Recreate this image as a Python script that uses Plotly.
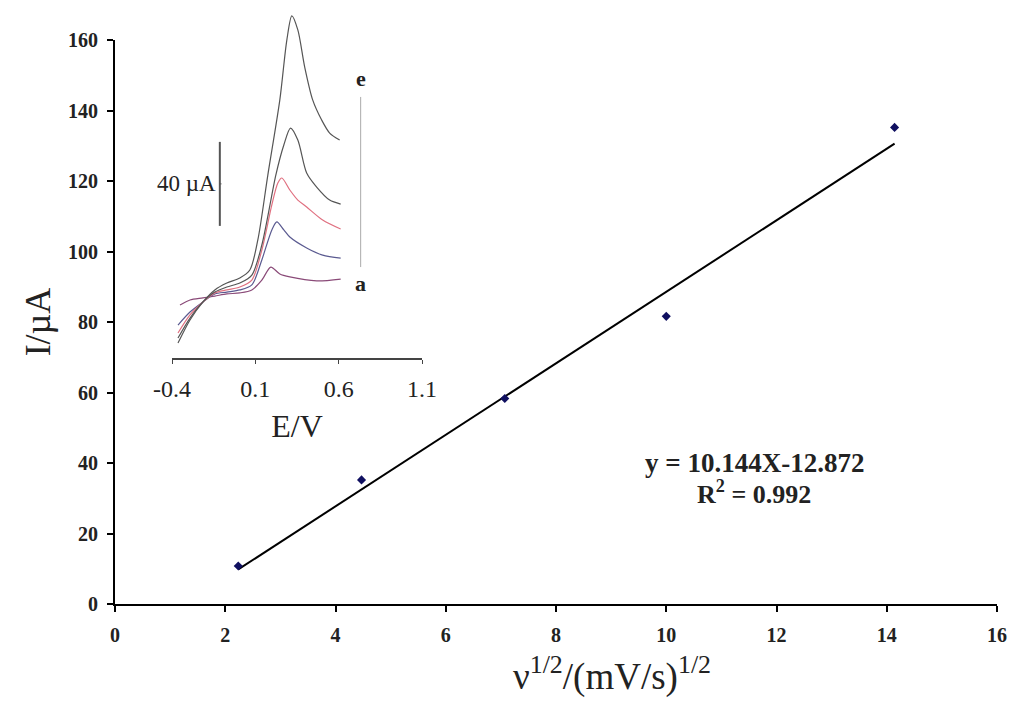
import plotly.graph_objects as go

# Main data: square root of scan rate vs peak current
sqrt_v = [2.236, 4.472, 7.071, 10.0, 14.142]
peak_I = [10.8, 35.2, 58.3, 81.6, 135.2]
slope, intercept = 10.144, -12.872
x_ticks = [0, 2, 4, 6, 8, 10, 12, 14, 16]
y_ticks = [0, 20, 40, 60, 80, 100, 120, 140, 160]

# Inset voltammograms (E in V, I in uA)
E_a = [-0.352, -0.292, -0.214, -0.143, -0.071, 0.007, 0.079, 0.139, 0.193, 0.247, 0.307, 0.468, 0.612]
I_a = [25.2, 27.6, 28.6, 29.5, 30.5, 31.0, 32.4, 37.1, 43.3, 40.0, 38.6, 36.7, 37.6]
E_b = [-0.364, -0.292, -0.214, -0.143, -0.071, 0.007, 0.079, 0.139, 0.199, 0.229, 0.271, 0.307, 0.408, 0.504, 0.612]
I_b = [15.7, 21.9, 26.7, 30.5, 31.4, 32.4, 34.8, 46.7, 61.0, 64.8, 61.0, 57.6, 52.4, 49.0, 47.6]
E_c = [-0.364, -0.292, -0.214, -0.143, -0.071, 0.007, 0.079, 0.139, 0.199, 0.235, 0.259, 0.307, 0.355, 0.408, 0.504, 0.612]
I_c = [11.9, 20.5, 26.7, 31.0, 32.4, 33.8, 37.1, 51.4, 72.9, 83.3, 85.7, 80.0, 75.2, 71.9, 65.7, 61.4]
E_d = [-0.364, -0.292, -0.214, -0.143, -0.071, 0.007, 0.079, 0.139, 0.223, 0.271, 0.311, 0.355, 0.408, 0.468, 0.546, 0.612]
I_d = [9.5, 19.0, 26.7, 31.4, 33.8, 35.7, 39.5, 53.8, 87.1, 101.4, 109.5, 103.8, 88.1, 81.4, 75.2, 73.3]
E_e = [-0.364, -0.292, -0.214, -0.143, -0.071, 0.007, 0.067, 0.115, 0.175, 0.247, 0.289, 0.319, 0.355, 0.396, 0.444, 0.498, 0.546, 0.606]
I_e = [7.1, 18.1, 26.7, 32.4, 35.7, 38.1, 41.9, 56.2, 87.1, 122.9, 151.4, 162.9, 156.2, 138.6, 122.9, 113.3, 107.1, 103.8]
inset_ticks = [-0.4, 0.1, 0.6, 1.1]

serif = "Liberation Serif"
fig = go.Figure()

# Inset curves
curves = [(E_a, I_a, "#8a4a78"), (E_b, I_b, "#5a5a90"), (E_c, I_c, "#e07080"),
          (E_d, I_d, "#555555"), (E_e, I_e, "#555555")]
for E, I, col in curves:
    fig.add_trace(go.Scatter(x=E, y=I, mode="lines", xaxis="x2", yaxis="y2",
                             line=dict(color=col, width=1.2, shape="spline", smoothing=0.8),
                             showlegend=False, hoverinfo="skip"))

# Trend line
x_fit = [sqrt_v[0], sqrt_v[-1]]
y_fit = [slope * x + intercept for x in x_fit]
fig.add_trace(go.Scatter(x=x_fit, y=y_fit, mode="lines",
                         line=dict(color="black", width=2), showlegend=False))
# Data points
fig.add_trace(go.Scatter(x=sqrt_v, y=peak_I, mode="markers",
                         marker=dict(symbol="diamond", size=7, color="#101060"),
                         showlegend=False))

fig.update_layout(
    width=1015, height=707,
    margin=dict(l=115, r=18, t=10, b=103, autoexpand=False),
    paper_bgcolor="white", plot_bgcolor="white",
    showlegend=False,
    xaxis=dict(range=[0, 16], tickvals=x_ticks, showgrid=False, zeroline=False,
               automargin=False,
               showline=True, linecolor="black", linewidth=2,
               ticks="outside", ticklen=6, tickwidth=2, tickcolor="black",
               ticklabelstandoff=6,
               tickfont=dict(family=serif, size=20, color="#222", weight="bold")),
    yaxis=dict(range=[0, 160], tickvals=y_ticks, domain=[0, 564 / 594], showgrid=False,
               automargin=False,
               zeroline=False, showline=True, linecolor="black", linewidth=2,
               ticks="outside", ticklen=6, tickwidth=2, tickcolor="black",
               ticklabelstandoff=5,
               tickfont=dict(family=serif, size=20, color="#222", weight="bold"),
               title=dict(text="I/µA", font=dict(family=serif, size=36, color="#222"),
                          standoff=6)),
    xaxis2=dict(domain=[(172 - 115) / 882, (422 - 115) / 882], anchor="y2",
                automargin=False,
                range=[-0.4, 1.1], tickvals=inset_ticks, ticktext=["-0.4", "0.1", "0.6", "1.1"],
                showgrid=False, zeroline=False, showline=True, linecolor="#444", linewidth=2,
                ticks="outside", ticklen=4, tickcolor="#444", ticklabelstandoff=4,
                tickfont=dict(family=serif, size=24, color="#222"),
                title=dict(text="E/V", font=dict(family=serif, size=32, color="#222"), standoff=14)),
    yaxis2=dict(domain=[(604 - 358) / 594, 1.0], anchor="x2", range=[0, 165.7],
                automargin=False,
                visible=False, showgrid=False, zeroline=False),
)

# X axis title (placed off-centre as in the original)
fig.add_annotation(xref="paper", yref="paper", x=(612 - 115) / 882, y=-(674 - 604) / 594,
                   xanchor="center", yanchor="middle",
                   text="ν<sup>1/2</sup>/(mV/s)<sup>1/2</sup>", showarrow=False,
                   font=dict(family=serif, size=37, color="#222"))

# Scale bar (40 uA) and a->e marker in inset coordinates
fig.add_shape(type="line", xref="x2", yref="y2", x0=-0.113, x1=-0.113, y0=62.9, y1=102.9,
              line=dict(color="#555", width=2))
fig.add_shape(type="line", xref="x2", yref="y2", x0=-0.113, x1=-0.103, y0=82.9, y1=82.9,
              line=dict(color="#555", width=1))
fig.add_annotation(xref="x2", yref="y2", x=-0.125, y=82.9, text="40 µA", showarrow=False,
                   xanchor="right", font=dict(family=serif, size=23, color="#222"))
fig.add_shape(type="line", xref="x2", yref="y2", x0=0.732, x1=0.732, y0=43.3, y1=124.3,
              line=dict(color="#aaa", width=1))
fig.add_annotation(xref="x2", yref="y2", x=0.732, y=132.9, text="<b>e</b>", showarrow=False,
                   font=dict(family=serif, size=22, color="#222"))
fig.add_annotation(xref="x2", yref="y2", x=0.732, y=35.7, text="<b>a</b>", showarrow=False,
                   font=dict(family=serif, size=22, color="#222"))

# Equation text
fig.add_annotation(x=11.6, y=39.9, text="<b>y = 10.144X-12.872</b>", showarrow=False,
                   font=dict(family=serif, size=27, color="#222"))
fig.add_annotation(x=11.6, y=31.7, text="<b>R<sup>2</sup> = 0.992</b>", showarrow=False,
                   font=dict(family=serif, size=26, color="#222"))

fig.write_html("out.html", config={"displayModeBar": False},
               post_script="document.body.style.margin='0px';")
